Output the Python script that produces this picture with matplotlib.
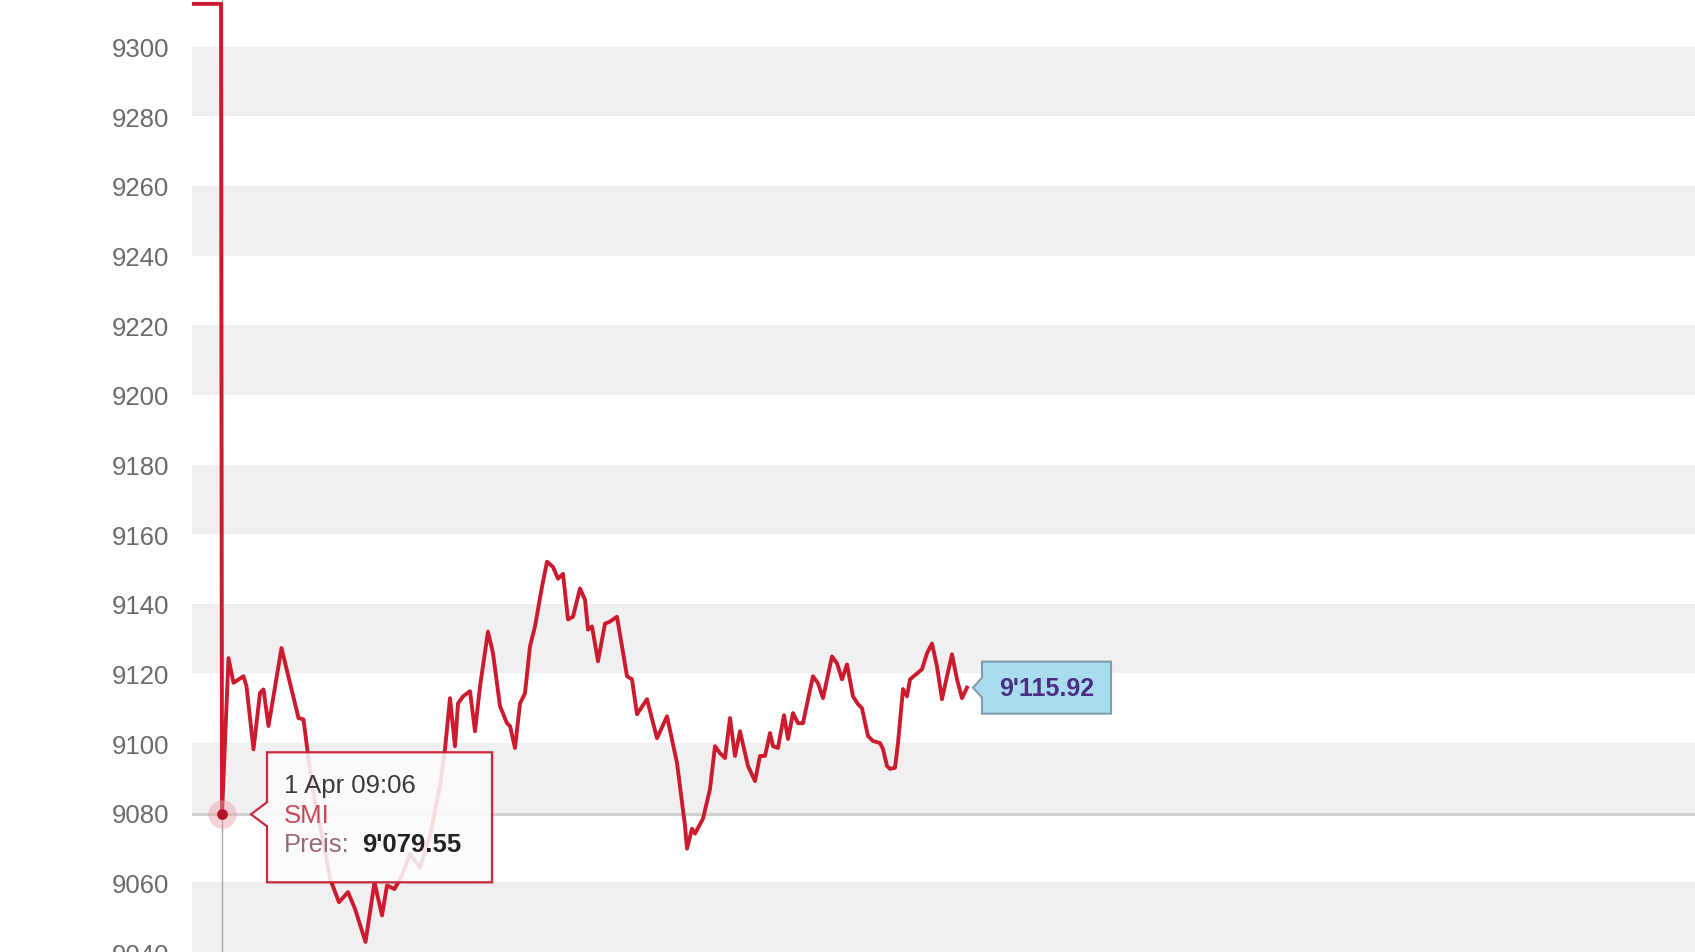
import matplotlib
matplotlib.use("Agg")
import matplotlib.pyplot as plt
from matplotlib.patches import Polygon
from matplotlib.transforms import IdentityTransform

plt.rcParams["font.family"] = ["Liberation Sans", "DejaVu Sans"]

# ---------------------------------------------------------------
# data: SMI intraday, minutes after 09:00 (1 Apr)
# ---------------------------------------------------------------
minutes = [0, 5.8, 6.0, 7.3, 8.3, 10.3, 10.9, 12.3, 13.6, 14.3,
           15.3, 17.9, 19.6, 21.3, 22.3, 22.9, 24.0, 25.6, 26.8, 27.6,
           29.4, 31.2, 32.6, 34.7, 36.5, 38.0, 39.0, 40.5, 42.0, 43.6,
           45.6, 47.6, 49.6, 50.6, 51.6, 52.6, 53.2, 54.2, 55.6, 56.6,
           57.6, 59.2, 60.2, 61.6, 63.0, 63.6, 64.6, 65.6, 66.6, 67.6,
           68.6, 70.0, 71.0, 72.2, 73.2, 74.2, 75.2, 76.2, 77.6, 78.6,
           79.2, 80.0, 81.2, 82.6, 83.6, 85.0, 86.0, 87.0, 88.0, 89.0,
           91.0, 93.0, 95.0, 97.0, 98.6, 99.0, 100.0, 100.6, 102.2, 103.6,
           104.6, 105.6, 106.6, 107.6, 108.6, 109.6, 111.2, 112.6, 113.6, 114.6,
           115.6, 116.2, 117.2, 118.4, 119.2, 120.2, 121.2, 122.2, 123.2, 124.2,
           125.2, 126.2, 128.0, 129.0, 130.0, 131.0, 132.2, 133.2, 134.0, 135.2,
           136.2, 137.6, 138.2, 139.0, 139.6, 140.6, 141.2, 142.2, 143.0, 143.6,
           145.0, 146.0, 147.0, 148.0, 149.0, 150.0, 151.0, 152.0, 153.0, 154.0,
           155.0]
prices = [9312.3, 9312.3, 9079.55, 9124.4, 9117.3, 9119.2, 9116.3, 9098.2, 9114.4, 9115.4,
          9104.9, 9127.3, 9117.3, 9107.2, 9106.8, 9100.1, 9087.7, 9076.3, 9067.7, 9061.1,
          9054.3, 9057.2, 9052.4, 9042.9, 9060.0, 9050.5, 9059.1, 9058.1, 9062.0, 9068.2,
          9064.2, 9073.4, 9087.7, 9098.3, 9112.9, 9099.1, 9111.4, 9113.4, 9114.9, 9103.4,
          9116.3, 9132.0, 9125.8, 9110.6, 9105.7, 9104.9, 9098.6, 9111.4, 9114.3, 9127.8,
          9133.5, 9144.9, 9152.1, 9150.6, 9147.2, 9148.6, 9135.5, 9136.3, 9144.4, 9141.2,
          9132.6, 9133.5, 9123.5, 9134.3, 9134.9, 9136.3, 9127.8, 9119.2, 9118.3, 9108.3,
          9112.6, 9101.4, 9107.7, 9094.3, 9076.3, 9069.7, 9075.4, 9074.0, 9078.3, 9086.8,
          9099.1, 9097.1, 9095.7, 9107.2, 9096.3, 9103.4, 9093.4, 9089.1, 9096.3, 9096.3,
          9102.9, 9099.1, 9098.6, 9108.0, 9101.2, 9108.6, 9105.7, 9105.7, 9112.6, 9119.2,
          9117.2, 9112.9, 9124.9, 9122.9, 9118.3, 9122.6, 9113.4, 9111.2, 9110.0, 9102.0,
          9100.6, 9100.0, 9098.3, 9093.4, 9092.6, 9092.9, 9100.0, 9115.5, 9113.4, 9118.3,
          9120.0, 9121.2, 9125.8, 9128.6, 9122.0, 9112.6, 9119.2, 9125.5, 9118.3, 9112.9,
          9115.92]
assert len(minutes) == len(prices)

y_ticks = [9040, 9060, 9080, 9100, 9120, 9140, 9160, 9180, 9200,
           9220, 9240, 9260, 9280, 9300]
hover_idx = 2
hover_label = "1 Apr 09:06"
series_name = "SMI"


def swiss(v):
    return f"{v:,.2f}".replace(",", "'")


# ---------------------------------------------------------------
# figure
# ---------------------------------------------------------------
W, H = 1695, 953
fig = plt.figure(figsize=(W / 100, H / 100), dpi=100)
ax = fig.add_axes([192 / W, 0, 1 - 192 / W, 1])
ax.set_xlim(0, 300.6)
ax.set_ylim(9041.1, 9313.7)

# alternating bands
for lo in y_ticks[::2]:
    ax.axhspan(lo, lo + 20, color="#f0f0f0", lw=0, zorder=0)

ax.set_yticks(y_ticks)
ax.set_xticks([])
ax.tick_params(axis="y", length=0, pad=16.5, labelsize=18.5, labelcolor="#6a6a6a")
for s in ax.spines.values():
    s.set_visible(False)

ht, hv = minutes[hover_idx], prices[hover_idx]

# crosshairs
ax.axhline(hv, color="#d0d0d0", lw=2.2, zorder=1)
ax.axvline(ht, color="#a8a8a8", lw=1.0, zorder=1)

ax.plot(minutes, prices, color="#cc1a2e", lw=2.8, zorder=3, solid_joinstyle="round")

# hover marker
ax.scatter([ht], [hv], s=420, color="#e8a0a8", alpha=0.45, lw=0, zorder=4)
ax.scatter([ht], [hv], s=60, color="#b3112a", lw=0, zorder=5)

ident = IdentityTransform()

# tooltip
mx, my = ax.transData.transform((ht, hv))
left, right, top, bot = mx + 45, mx + 270, my + 62, my - 68
tip = [(left, top), (right, top), (right, bot), (left, bot),
       (left, my - 12), (mx + 29, my), (left, my + 12)]
shadow = [(x + 2, y - 2) for x, y in tip]
ax.add_patch(Polygon(shadow, closed=True, transform=ident, fc=(0, 0, 0, 0.08),
                     ec="none", zorder=6, clip_on=False))
ax.add_patch(Polygon(tip, closed=True, transform=ident, fc=(1, 1, 1, 0.86),
                     ec="#c9283e", lw=1.6, zorder=7, clip_on=False))
tx = mx + 62
ax.text(tx, my + 29, hover_label, transform=ident, fontsize=18.5, color="#3a3a3a",
        va="center", ha="left", zorder=8)
ax.text(tx, my - 1, series_name, transform=ident, fontsize=18.5, color="#c8485a",
        va="center", ha="left", zorder=8)
ax.text(tx, my - 30, "Preis:", transform=ident, fontsize=18.5, color="#9a6a74",
        va="center", ha="left", zorder=8)
ax.text(mx + 140, my - 30, swiss(hv), transform=ident, fontsize=18.5,
        fontweight="bold", color="#222222", va="center", ha="left", zorder=8)

# last-price label
ex, ey = ax.transData.transform((minutes[-1], prices[-1]))
lab = [(ex + 6, ey), (ex + 15, ey + 10), (ex + 15, ey + 26), (ex + 144, ey + 26),
       (ex + 144, ey - 26), (ex + 15, ey - 26), (ex + 15, ey - 10)]
ax.add_patch(Polygon(lab, closed=True, transform=ident, fc="#a9dcef",
                     ec="#7f9ea8", lw=1.5, zorder=7, clip_on=False))
ax.text(ex + 80, ey, swiss(prices[-1]), transform=ident, fontsize=18,
        fontweight="bold", color="#4b2e83", va="center", ha="center", zorder=8)

fig.savefig("out.png", dpi=100)
